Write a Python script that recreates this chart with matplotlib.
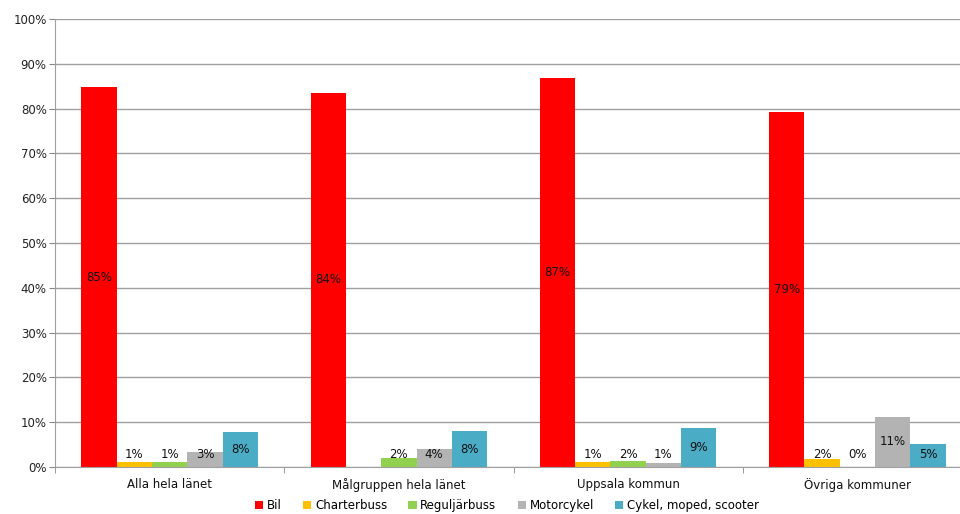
import numpy as np
import matplotlib.pyplot as plt

plt.rcParams['font.family'] = ['DejaVu Sans']

categories = ['Alla hela länet', 'Målgruppen hela länet', 'Uppsala kommun', 'Övriga kommuner']
series = ['Bil', 'Charterbuss', 'Reguljärbuss', 'Motorcykel', 'Cykel, moped, scooter']
bil = [84.8, 83.5, 86.8, 79.2]
charterbuss = [1.1, 0.0, 1.1, 1.8]
reguljarbuss = [1.1, 2.0, 1.4, 0.0]
motorcykel = [3.3, 4.0, 0.9, 11.2]
cykel = [7.8, 8.0, 8.7, 5.2]
labels = [['85%', '84%', '87%', '79%'],
          ['1%', '', '1%', '2%'],
          ['1%', '2%', '2%', '0%'],
          ['3%', '4%', '1%', '11%'],
          ['8%', '8%', '9%', '5%']]
colors = ['#ff0000', '#ffc000', '#92d050', '#b3b3b3', '#4bacc6']

values = [bil, charterbuss, reguljarbuss, motorcykel, cykel]

fig = plt.figure(figsize=(9.6, 5.14), dpi=100)
ax = fig.add_axes([55/960, 47/514, 917/960, 448/514])

x = np.arange(len(categories))
w = 0.154
for i, (name, vals) in enumerate(zip(series, values)):
    pos = x + (i - 2) * w
    ax.bar(pos, vals, width=w, color=colors[i], label=name, zorder=2)
    for p, v, t in zip(pos, vals, labels[i]):
        if t:
            ax.text(p, max(v / 2, 2.7), t, ha='center', va='center',
                    fontsize=8.5, color='#111111', zorder=3)

ax.set_xlim(-0.5, 3.5)
ax.set_ylim(0, 100)
ax.set_yticks(np.arange(0, 101, 10))
ax.set_yticklabels([f'{v}%' for v in range(0, 101, 10)], fontsize=8.5, color='#222222')
ax.set_xticks(x)
ax.set_xticklabels(categories, fontsize=8.5, color='#111111')
ax.set_xticks(np.arange(-0.5, 4.0, 1), minor=True)
ax.tick_params(axis='x', which='major', length=0, pad=8)
ax.tick_params(axis='x', which='minor', length=4, color='#888888')
ax.tick_params(axis='y', length=4, color='#888888', pad=2)
ax.grid(axis='y', color='#a0a0a0', linewidth=1, zorder=0)
for s in ['top', 'right']:
    ax.spines[s].set_visible(False)
ax.spines['left'].set_color('#a0a0a0')
ax.spines['bottom'].set_color('#a0a0a0')

ax.legend(loc='lower center', bbox_to_anchor=(452/917, -0.125), ncol=5, frameon=False,
          fontsize=8.5, handlelength=0.7, handleheight=0.7, handletextpad=0.3,
          columnspacing=1.8)

fig.savefig('out.png', dpi=100)
